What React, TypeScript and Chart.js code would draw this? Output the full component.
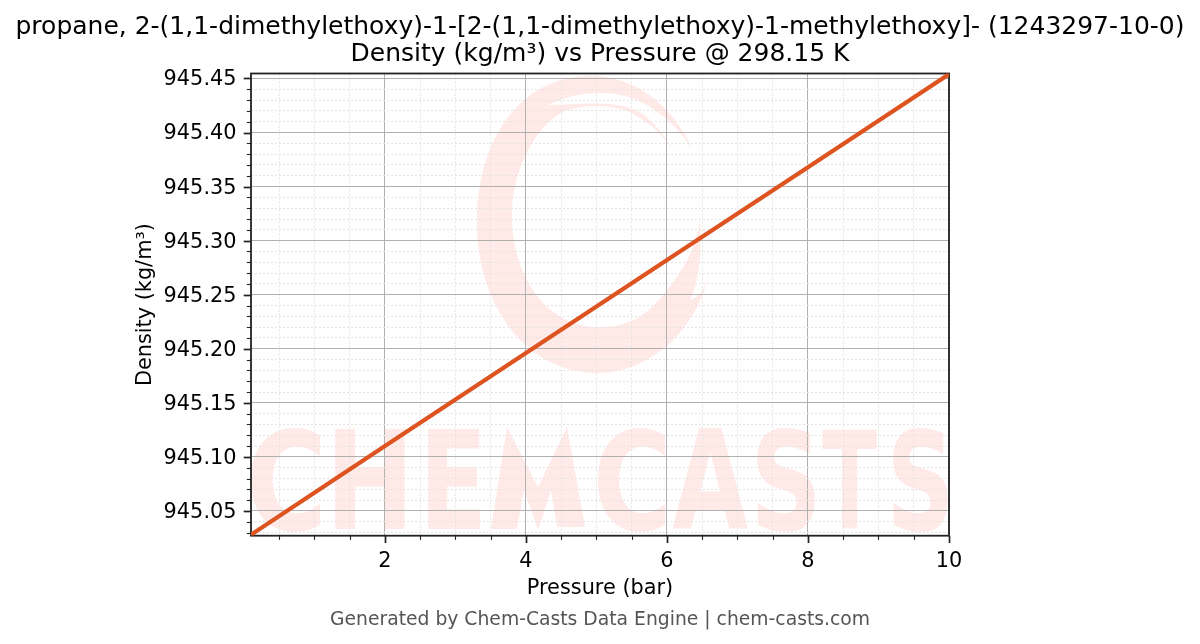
import React, { useEffect, useRef } from "react";
import { Chart, registerables } from "chart.js";

Chart.register(...registerables);

const pressure = [0.1, 2, 4, 6, 8, 10];
const density = [945.028, 945.11, 945.196, 945.282, 945.368, 945.454];
const xMajor = [2, 4, 6, 8, 10];
const xMinor = [0.5, 1, 1.5, 2.5, 3, 3.5, 4.5, 5, 5.5, 6.5, 7, 7.5, 8.5, 9, 9.5];
const yMajor = [945.05, 945.1, 945.15, 945.2, 945.25, 945.3, 945.35, 945.4, 945.45];
const yMinor = [
  945.03, 945.04, 945.06, 945.07, 945.08, 945.09, 945.11, 945.12, 945.13, 945.14,
  945.16, 945.17, 945.18, 945.19, 945.21, 945.22, 945.23, 945.24, 945.26, 945.27,
  945.28, 945.29, 945.31, 945.32, 945.33, 945.34, 945.36, 945.37, 945.38, 945.39,
  945.41, 945.42, 945.43, 945.44,
];
const titleLines = [
  "propane, 2-(1,1-dimethylethoxy)-1-[2-(1,1-dimethylethoxy)-1-methylethoxy]- (1243297-10-0)",
  "Density (kg/m³) vs Pressure @ 298.15 K",
];
const xLabel = "Pressure (bar)";
const yLabel = "Density (kg/m³)";
const footer = "Generated by Chem-Casts Data Engine | chem-casts.com";
const FONT = "'DejaVu Sans'";

const ringPath =
  "M693 150 C672 118 640 92 600 93 C582 93 565 97 548 105 C568 106 612 98 640 112 C655 122 668 140 678 158 " +
  "C665 135 645 118 625 110 C600 103 580 106 565 111 C540 122 512 165 512 215 C512 280 550 327 597 327 " +
  "C612 327 625 325 637 318 C655 310 685 270 693 247 C697 235 699 228 700 220 C702 250 700 280 690 300 C703 295 707 285 711 265 " +
  "C700 330 650 373 597 373 C530 373 477 310 477 222 C477 140 520 76 590 76 C630 75 670 100 693 150 Z";

const mPath = "M491 529 L507 427 L538 487 L567 427 L585 527 L557 527 L551 490 L538 530 L524 490 L517 529 Z";

const letters: [string, number, number, number, number][] = [
  ["C", 250, 320, 427, 531],
  ["H", 335, 405, 429, 529],
  ["E", 428, 480, 429, 529],
  ["C", 597, 665, 427, 531],
  ["A", 672, 748, 427, 529],
  ["S", 757, 815, 427, 531],
  ["T", 822, 877, 429, 529],
  ["S", 893, 948, 427, 531],
];

const watermark = {
  id: "watermark",
  beforeDraw(chart: any) {
    const c = chart.ctx;
    c.save();
    c.fillStyle = "#ffeae8";
    c.fill(new Path2D(ringPath));
    c.fill(new Path2D(mPath));
    c.font = `900 100px ${FONT}`;
    c.textBaseline = "alphabetic";
    c.textAlign = "left";
    for (const [ch, x0, x1, y0, y1] of letters) {
      const m = c.measureText(ch);
      const w = m.actualBoundingBoxRight + m.actualBoundingBoxLeft;
      const h = m.actualBoundingBoxAscent + m.actualBoundingBoxDescent;
      c.save();
      c.translate(x0, y0);
      c.scale((x1 - x0) / w, (y1 - y0) / h);
      c.fillText(ch, m.actualBoundingBoxLeft, m.actualBoundingBoxAscent);
      c.restore();
    }
    c.restore();
  },
};

const frame = {
  id: "frame",
  beforeDatasetsDraw(chart: any) {
    const c = chart.ctx;
    const { left, right, top, bottom } = chart.chartArea;
    const xs = chart.scales.x;
    const ys = chart.scales.y;
    c.save();
    c.strokeStyle = "#222222";
    for (const t of xs.ticks) {
      const px = Math.round(xs.getPixelForValue(t.value)) + 0.5;
      c.lineWidth = t.major ? 1.7 : 1.1;
      c.beginPath();
      c.moveTo(px, bottom);
      c.lineTo(px, bottom + (t.major ? 7.3 : 4.2));
      c.stroke();
    }
    for (const t of ys.ticks) {
      const py = Math.round(ys.getPixelForValue(t.value)) + 0.5;
      c.lineWidth = t.major ? 1.7 : 1.1;
      c.beginPath();
      c.moveTo(left, py);
      c.lineTo(left - (t.major ? 7.3 : 4.2), py);
      c.stroke();
    }
    c.lineWidth = 1.8;
    c.strokeRect(left, top, right - left, bottom - top);
    c.restore();
  },
};

function makeTicks(major: number[], minor: number[]) {
  return [
    ...minor.map((value) => ({ value, major: false })),
    ...major.map((value) => ({ value, major: true })),
  ].sort((a, b) => a.value - b.value);
}

const grid = {
  drawTicks: false,
  color: (ctx: any) => (ctx.tick && ctx.tick.major ? "#b0b0b0" : "#e4e4e4"),
  lineWidth: 1,
};
const border = {
  display: false,
  dash: (ctx: any) => (ctx.tick && ctx.tick.major ? [] : [2, 2]),
};

export default function App() {
  const ref = useRef<HTMLCanvasElement>(null);
  useEffect(() => {
    document.body.style.margin = "0";
    const chart = new Chart(ref.current!, {
      type: "line",
      data: {
        labels: pressure,
        datasets: [
          {
            data: pressure.map((x, i) => ({ x, y: density[i] })),
            borderColor: "#de5420",
            borderWidth: 4.2,
            pointRadius: 0,
            tension: 0,
          },
        ],
      },
      options: {
        animation: false,
        responsive: false,
        layout: { padding: { top: 13.5, left: 0, right: 0, bottom: 0 } },
        plugins: {
          legend: { display: false },
          tooltip: { enabled: false },
          title: {
            display: true,
            text: titleLines,
            color: "#000000",
            font: { family: FONT, size: 25, weight: "normal", lineHeight: 1.1 },
            padding: { top: 0, bottom: 5 },
          },
          subtitle: {
            display: true,
            position: "bottom",
            text: footer,
            color: "#555555",
            font: { family: FONT, size: 18.75, weight: "normal" },
            padding: { top: 0, bottom: 13 },
          },
        },
        scales: {
          x: {
            type: "linear",
            min: 0.1,
            max: 10,
            afterFit: (s: any) => { s.height = 72.8; },
            afterBuildTicks: (s: any) => { s.ticks = makeTicks(xMajor, xMinor); },
            ticks: {
              autoSkip: false,
              maxRotation: 0,
              padding: 13.5,
              color: "#000000",
              font: { family: FONT, size: 20.83 },
              callback: (v: any) => (xMajor.includes(v) ? String(v) : ""),
            },
            grid,
            border,
            title: {
              display: true,
              text: xLabel,
              color: "#000000",
              font: { family: FONT, size: 20.83 },
              padding: { top: 0, bottom: 7 },
            },
          },
          y: {
            type: "linear",
            min: 945.0271,
            max: 945.4546,
            afterFit: (s: any) => { s.width = 251; },
            afterBuildTicks: (s: any) => { s.ticks = makeTicks(yMajor, yMinor); },
            ticks: {
              autoSkip: false,
              padding: 14.5,
              labelOffset: 1.5,
              color: "#000000",
              font: { family: FONT, size: 20.83 },
              callback: (v: any) => (yMajor.includes(v) ? Number(v).toFixed(2) : ""),
            },
            grid,
            border,
            title: {
              display: true,
              text: yLabel,
              color: "#000000",
              font: { family: FONT, size: 20.83 },
              padding: { top: 133, bottom: 0 },
            },
          },
          spacer: {
            type: "linear",
            position: "right",
            afterFit: (s: any) => { s.width = 251; },
            grid: { display: false, drawTicks: false },
            border: { display: false },
            ticks: { display: false },
          },
        },
      },
      plugins: [watermark, frame],
    } as any);
    return () => chart.destroy();
  }, []);
  return <canvas ref={ref} width={1200} height={644} style={{ display: "block" }} />;
}
